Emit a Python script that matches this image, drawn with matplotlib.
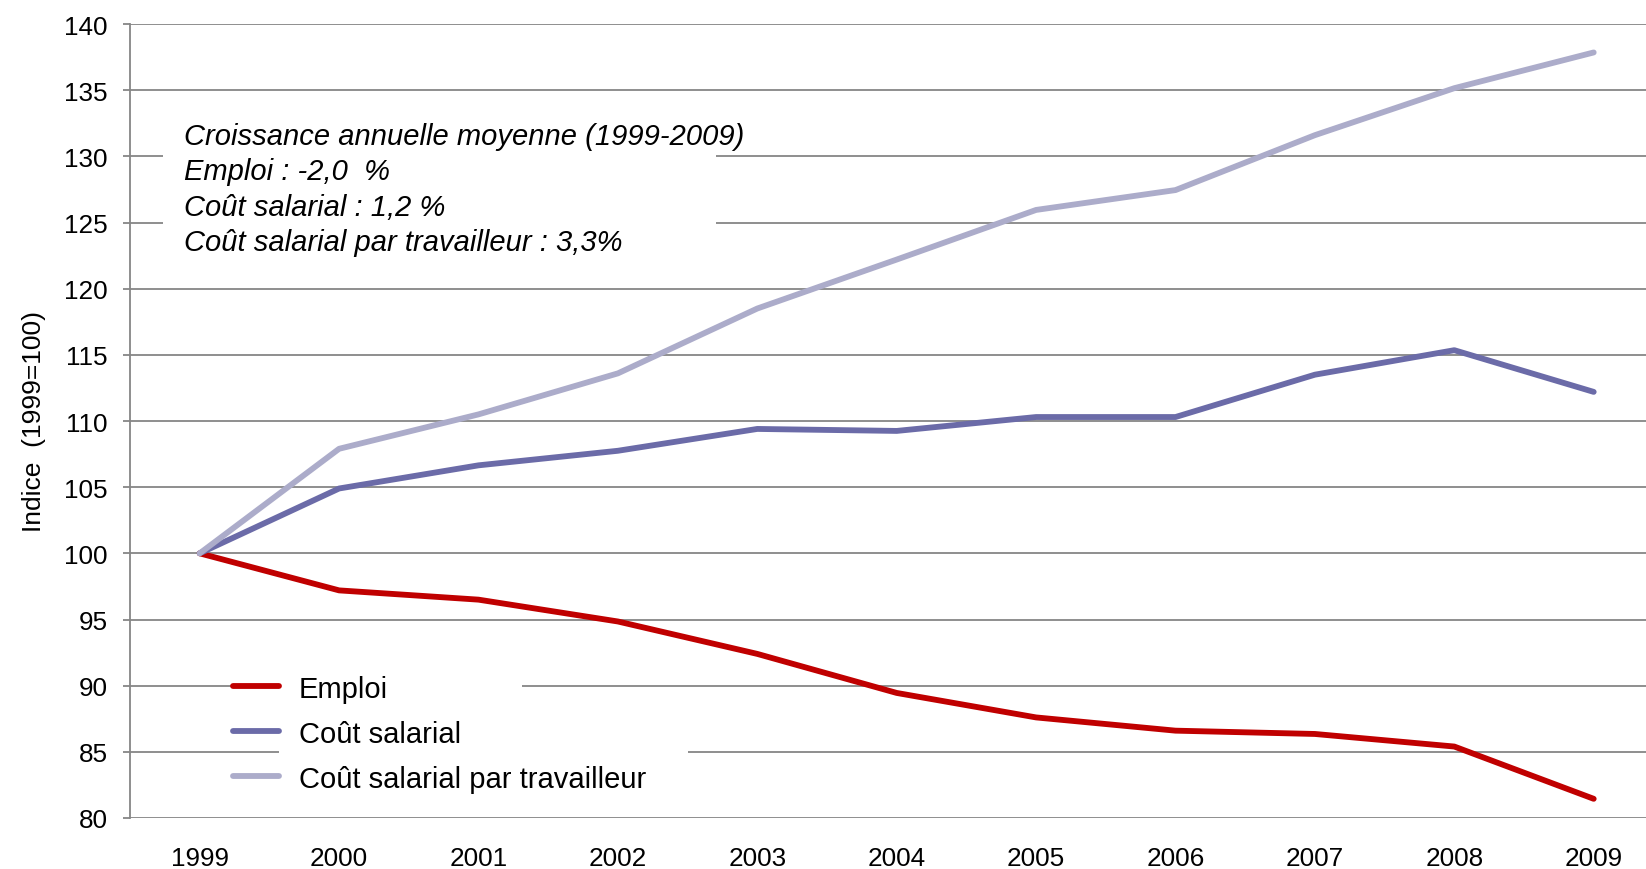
import numpy as np
import matplotlib
matplotlib.use("Agg")
import matplotlib.pyplot as plt
from matplotlib.patches import Rectangle

plt.rcParams["font.family"] = ["Liberation Sans", "DejaVu Sans"]

years = ["1999", "2000", "2001", "2002", "2003", "2004", "2005", "2006", "2007", "2008", "2009"]
emploi = [100, 97.2, 96.5, 94.85, 92.4, 89.45, 87.6, 86.6, 86.35, 85.4, 81.45]
cout_salarial = [100, 104.9, 106.65, 107.75, 109.4, 109.25, 110.3, 110.3, 113.5, 115.35, 112.2]
cout_par_travailleur = [100, 107.9, 110.5, 113.6, 118.5, 122.2, 125.95, 127.45, 131.6, 135.15, 137.85]

annotation_lines = [
    "Croissance annuelle moyenne (1999-2009)",
    "Emploi : -2,0  %",
    "Coût salarial : 1,2 %",
    "Coût salarial par travailleur : 3,3%",
]

grid_color = "#868686"

fig = plt.figure(figsize=(16.46, 8.70), dpi=100)
ax = fig.add_axes([130 / 1646, 1 - 819 / 870, 1533 / 1646, 794 / 870])

x = np.arange(len(years))
ax.plot(x, emploi, color="#c00000", lw=4.2, solid_capstyle="round",
        solid_joinstyle="round", label="Emploi", zorder=3)
ax.plot(x, cout_salarial, color="#6b6ba8", lw=4.2, solid_capstyle="round",
        solid_joinstyle="round", label="Coût salarial", zorder=3)
ax.plot(x, cout_par_travailleur, color="#acacca", lw=4.2, solid_capstyle="round",
        solid_joinstyle="round", label="Coût salarial par travailleur", zorder=3)

ax.set_xlim(-0.5, -0.5 + 1533 / 139.4)
ax.set_ylim(80, 140)
ax.set_yticks(np.arange(80, 141, 5))
ax.set_xticks(x)
ax.set_xticklabels(years)

ax.yaxis.grid(True, color=grid_color, lw=1.3)
ax.set_axisbelow(True)
for side in ["top", "right", "bottom"]:
    ax.spines[side].set_visible(False)
ax.spines["left"].set_color(grid_color)
ax.spines["left"].set_linewidth(1.3)

ax.tick_params(axis="y", length=5, width=1.3, color=grid_color, pad=11, labelsize=18.8)
ax.tick_params(axis="x", length=0, pad=20, labelsize=18.8)

ax.set_ylabel("Indice  (1999=100)", fontsize=19)
ax.yaxis.set_label_coords(-0.055, 0.5)

# white boxes behind the annotation and the legend (hide gridlines)
ax.add_patch(Rectangle((0.0215, 0.7015), 0.361, 0.191, transform=ax.transAxes,
                       facecolor="white", edgecolor="none", zorder=1))
ax.add_patch(Rectangle((0.0972, 0.0239), 0.1585, 0.1826, transform=ax.transAxes,
                       facecolor="white", edgecolor="none", zorder=1))
ax.add_patch(Rectangle((0.0972, 0.0239), 0.2668, 0.1108, transform=ax.transAxes,
                       facecolor="white", edgecolor="none", zorder=1))

ax.text(0.0352, 0.876, "\n".join(annotation_lines), transform=ax.transAxes,
        fontsize=21, style="italic", va="top", ha="left", linespacing=1.32, zorder=4)

leg = ax.legend(loc="center left", bbox_to_anchor=(0.0672, 0.1063), frameon=False,
                fontsize=21, handlelength=1.575, handletextpad=0.68,
                borderpad=0, borderaxespad=0, labelspacing=0.58)
leg.set_zorder(5)

fig.savefig("out.png", dpi=100)
